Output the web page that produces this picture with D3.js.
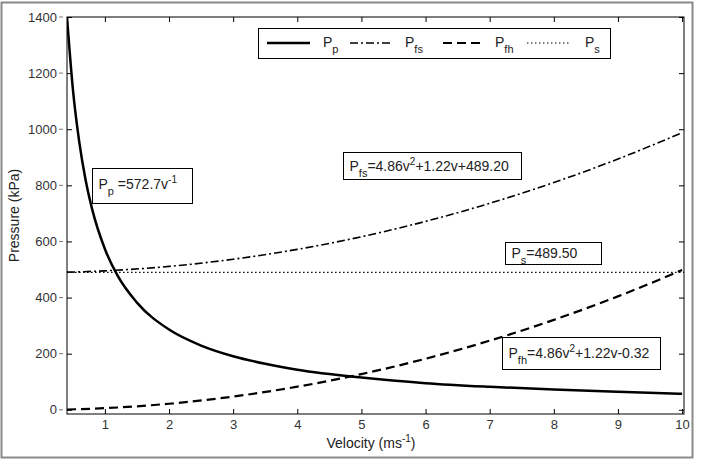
<!DOCTYPE html>
<html>
<head>
<meta charset="utf-8">
<script src="https://cdn.jsdelivr.net/npm/d3@7"></script>
<style>
  body { margin: 0; background: #fff; }
  text { font-family: "Liberation Sans", Arial, sans-serif; }
  .tick text { font-size: 13px; fill: #333; }
  .ann { font-size: 14px; fill: #222; }
</style>
</head>
<body>
<div id="svg-container"></div>
<script>
// data
const velocity = [0.41, 0.5, 0.6, 0.7, 0.8, 1, 1.2, 1.5, 2, 2.5, 3, 3.5, 4, 5, 6, 7, 8, 9, 10];
const pP = [1397, 1145, 955, 818, 716, 573, 477, 382, 286, 229, 191, 164, 143, 115, 95, 82, 72, 64, 57];
const velocityQ = [0.41, 1, 2, 3, 4, 5, 6, 7, 8, 9, 10];
const pFs = [490.5, 495.3, 511.1, 536.6, 571.8, 616.8, 671.5, 735.9, 810, 893.8, 987.4];
const pFh = [1.0, 5.8, 21.6, 47.1, 82.3, 127.3, 182, 246.4, 320.5, 404.3, 497.9];
const velocityS = [0.41, 10.03];
const pS = [489.5, 489.5];
const xTicks = [1, 2, 3, 4, 5, 6, 7, 8, 9, 10];
const yTicks = [0, 200, 400, 600, 800, 1000, 1200, 1400];

const width = 705, height = 464;
const margin = { top: 17, right: 21, bottom: 50, left: 67 };

const svg = d3.select("#svg-container").append("svg")
  .attr("width", width).attr("height", height);

// outer figure frame
svg.append("rect")
  .attr("x", 1.5).attr("y", 2.5)
  .attr("width", 691).attr("height", 455)
  .attr("fill", "#fff").attr("stroke", "#8a8a8a").attr("stroke-width", 2);

const x = d3.scaleLinear().domain([0.409, 10.03]).range([margin.left, width - margin.right]);
const y = d3.scaleLinear().domain([-15, 1400]).range([height - margin.bottom, margin.top]);

// axes, ticks pointing inward
svg.append("g").attr("transform", `translate(0,${y.range()[0]})`)
  .call(d3.axisBottom(x).tickValues(xTicks).tickSizeInner(-5).tickSizeOuter(0).tickPadding(6));
svg.append("g").attr("transform", `translate(0,${margin.top})`)
  .call(d3.axisTop(x).tickValues(xTicks).tickSizeInner(-5).tickSizeOuter(0).tickFormat(""));
svg.append("g").attr("transform", `translate(${margin.left},0)`)
  .call(d3.axisLeft(y).tickValues(yTicks).tickFormat(d3.format("d"))
    .tickSizeInner(-5).tickSizeOuter(0).tickPadding(10));
svg.append("g").attr("transform", `translate(${width - margin.right},0)`)
  .call(d3.axisRight(y).tickValues(yTicks).tickSizeInner(-5).tickSizeOuter(0).tickFormat(""));
svg.selectAll(".domain").remove();
svg.selectAll(".tick line").attr("stroke", "#000");

// small outer marks next to the y labels
svg.append("g").selectAll("line").data(yTicks).join("line")
  .attr("x1", margin.left - 8).attr("x2", margin.left - 4)
  .attr("y1", d => y(d)).attr("y2", d => y(d))
  .attr("stroke", "#777").attr("stroke-width", 1);

svg.append("rect")
  .attr("x", margin.left).attr("y", margin.top)
  .attr("width", x.range()[1] - margin.left).attr("height", y.range()[0] - margin.top)
  .attr("fill", "none").attr("stroke", "#000").attr("stroke-width", 1);

// axis labels
svg.append("text")
  .attr("transform", `translate(19,${(margin.top + y.range()[0]) / 2}) rotate(-90)`)
  .attr("text-anchor", "middle").attr("font-size", 14).attr("fill", "#222")
  .text("Pressure (kPa)");

const xl = svg.append("text")
  .attr("x", 371).attr("y", 448)
  .attr("text-anchor", "middle").attr("font-size", 14).attr("fill", "#222");
xl.append("tspan").text("Velocity (ms");
xl.append("tspan").attr("dy", -6).attr("font-size", 10).text("-1");
xl.append("tspan").attr("dy", 6).text(")");

// curves
svg.append("clipPath").attr("id", "clip").append("rect")
  .attr("x", margin.left).attr("y", margin.top)
  .attr("width", x.range()[1] - margin.left).attr("height", y.range()[0] - margin.top);

const line = d3.line().curve(d3.curveMonotoneX).x(d => x(d[0])).y(d => y(d[1]));
const curves = svg.append("g").attr("clip-path", "url(#clip)");

const series = [
  { xs: velocityS, ys: pS, width: 1.2, dash: "1.5,2.5" },
  { xs: velocityQ, ys: pFs, width: 1.6, dash: "8,3,2,3" },
  { xs: velocityQ, ys: pFh, width: 2.2, dash: "9,5" },
  { xs: velocity, ys: pP, width: 2.5, dash: null }
];
series.forEach(s => {
  curves.append("path")
    .datum(d3.zip(s.xs, s.ys))
    .attr("d", line)
    .attr("fill", "none")
    .attr("stroke", "#000")
    .attr("stroke-width", s.width)
    .attr("stroke-dasharray", s.dash);
});

// annotation boxes
function subLabel(g, parts) {
  const t = g.append("text").attr("class", "ann");
  parts.forEach(p => {
    const ts = t.append("tspan").text(p.t);
    if (p.sub) ts.attr("font-size", 11).attr("dy", 6);
    if (p.sup) ts.attr("font-size", 10).attr("dy", -6);
    if (p.back) ts.attr("dy", p.back);
  });
  return t;
}

function annBox(bx, by, bw, bh, parts, ty) {
  const g = svg.append("g").attr("transform", `translate(${bx},${by})`);
  g.append("rect").attr("width", bw).attr("height", bh)
    .attr("fill", "#fff").attr("stroke", "#000").attr("stroke-width", 1);
  subLabel(g, parts).attr("x", 6).attr("y", ty);
  return g;
}

annBox(92.5, 168.5, 100, 35, [
  { t: "P" }, { t: "p", sub: true }, { t: " =572.7v", back: -6 }, { t: "-1", sup: true }
], 20);
annBox(343.5, 152.5, 178, 27, [
  { t: "P" }, { t: "fs", sub: true }, { t: "=4.86v", back: -6 }, { t: "2", sup: true },
  { t: "+1.22v+489.20", back: 6 }
], 18);
annBox(505.5, 242.5, 96, 22, [
  { t: "P" }, { t: "s", sub: true }, { t: "=489.50", back: -6 }
], 15);
annBox(502.5, 337.5, 158, 32, [
  { t: "P" }, { t: "fh", sub: true }, { t: "=4.86v", back: -6 }, { t: "2", sup: true },
  { t: "+1.22v-0.32", back: 6 }
], 20);

// legend
const legend = svg.append("g");
legend.append("rect").attr("x", 258.5).attr("y", 28.5).attr("width", 352).attr("height", 30)
  .attr("fill", "#fff").attr("stroke", "#000").attr("stroke-width", 1);
const legItems = [
  { x1: 267, x2: 310, tx: 323, name: "p", s: series[3] },
  { x1: 350, x2: 393, tx: 405, name: "fs", s: series[1] },
  { x1: 443, x2: 481, tx: 495, name: "fh", s: series[2] },
  { x1: 527, x2: 570, tx: 585, name: "s", s: series[0] }
];
legItems.forEach(d => {
  legend.append("line").attr("x1", d.x1).attr("x2", d.x2).attr("y1", 43).attr("y2", 43)
    .attr("stroke", "#000").attr("stroke-width", d.s.width).attr("stroke-dasharray", d.s.dash);
  subLabel(legend, [{ t: "P" }, { t: d.name, sub: true }]).attr("x", d.tx).attr("y", 47);
});
</script>
</body>
</html>
